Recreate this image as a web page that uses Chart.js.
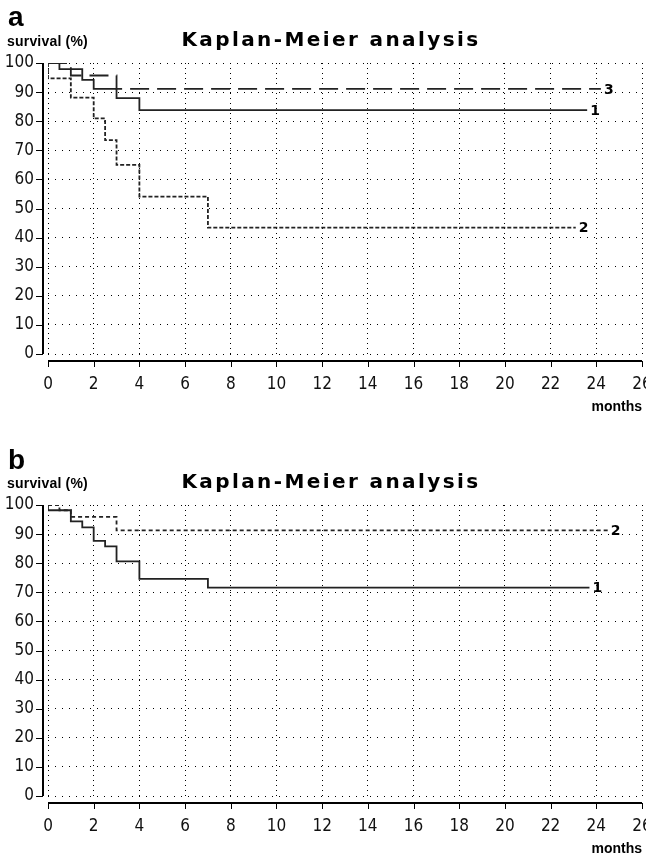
<!DOCTYPE html>
<html>
<head>
<meta charset="utf-8">
<script src="https://cdn.jsdelivr.net/npm/chart.js@4"></script>
<style>
  body { margin: 0; background: #fff; overflow: hidden; width: 646px; height: 858px; }
  .panel { position: absolute; left: 0; width: 646px; }
  .panel canvas { position: absolute; left: 0; top: 0; }
  .tag { position: absolute; left: 8px; font: bold 28px 'Liberation Sans', Arial, sans-serif; line-height: 1; }
  .ylab { position: absolute; left: 7px; font: bold 14px 'Liberation Sans', Arial, sans-serif; letter-spacing: 0.2px; line-height: 1; }
  .title { position: absolute; left: 0; width: 662px; text-align: center; font: bold 20px 'DejaVu Sans', sans-serif; letter-spacing: 2.4px; line-height: 1; }
</style>
</head>
<body>
<div class="panel" style="top:0; height:442px">
  <canvas id="chartA" width="646" height="442"></canvas>
  <div class="tag" style="top:3px">a</div>
  <div class="ylab" style="top:34px">survival (%)</div>
  <div class="title" style="top:29px">Kaplan-Meier analysis</div>
</div>
<div class="panel" style="top:442px; height:416px">
  <canvas id="chartB" width="646" height="416"></canvas>
  <div class="tag" style="top:4px">b</div>
  <div class="ylab" style="top:34px">survival (%)</div>
  <div class="title" style="top:29px">Kaplan-Meier analysis</div>
</div>
<script>
// axis ticks
const monthTicks = [0, 2, 4, 6, 8, 10, 12, 14, 16, 18, 20, 22, 24, 26];
const survivalTicks = [0, 10, 20, 30, 40, 50, 60, 70, 80, 90, 100];

// panel a
const a1Months = [0, 0.5, 1.5, 2, 3, 4, 23.6];
const a1Survival = [100, 97.9, 94.2, 91.1, 87.9, 83.8, 83.8];
const a2Months = [0, 0, 1, 2, 2.5, 3, 4, 7, 23.1];
const a2Survival = [100, 94.7, 88.1, 81.0, 73.5, 65.0, 54.1, 43.4, 43.4];
const a3Months = [0, 1, 3, 24.2];
const a3Survival = [100, 95.7, 91.1, 91.1];

// panel b
const b1Months = [0, 0, 1, 1.5, 2, 2.5, 3, 4, 7, 23.7];
const b1Survival = [100, 98.2, 94.4, 92.3, 87.7, 85.8, 80.6, 74.6, 71.6, 71.6];
const b2Months = [0, 0.5, 1, 3, 24.5];
const b2Survival = [100, 98.2, 95.9, 91.3, 91.3];

// narrow tick digits like the original
const tickFont = { family: "'DejaVu Sans', sans-serif", weight: 'normal condensed', size: 17 };
const ink = '#111';

function curve(label, months, survival, dash) {
  return {
    label: label,
    data: months.map((m, i) => ({ x: m, y: survival[i] })),
    stepped: 'before',
    borderColor: '#222',
    borderWidth: 1.8,
    borderDash: dash,
    pointRadius: 0,
    fill: false,
  };
}

// axis lines sit a few pixels off the plot, plus curve numbers at line ends
const offsetAxes = {
  id: 'offsetAxes',
  afterDraw(chart) {
    const { ctx, chartArea: area, scales: { x, y } } = chart;
    ctx.save();
    ctx.strokeStyle = '#000';

    const yl = area.left - 5;
    ctx.lineWidth = 2;
    ctx.beginPath();
    ctx.moveTo(yl, y.getPixelForValue(100));
    ctx.lineTo(yl, y.getPixelForValue(0));
    ctx.stroke();
    ctx.lineWidth = 1;
    ctx.beginPath();
    survivalTicks.forEach(v => {
      const p = Math.round(y.getPixelForValue(v)) + 0.5;
      ctx.moveTo(yl - 7, p);
      ctx.lineTo(yl, p);
    });
    ctx.stroke();

    const xl = area.bottom + 7;
    ctx.lineWidth = 2;
    ctx.beginPath();
    ctx.moveTo(x.getPixelForValue(0), xl);
    ctx.lineTo(x.getPixelForValue(26), xl);
    ctx.stroke();
    ctx.lineWidth = 1;
    ctx.beginPath();
    monthTicks.forEach(m => {
      const p = Math.round(x.getPixelForValue(m)) + 0.5;
      ctx.moveTo(p, xl);
      ctx.lineTo(p, xl + 6);
    });
    ctx.stroke();

    ctx.fillStyle = '#000';
    ctx.font = "bold 14px 'DejaVu Sans', sans-serif";
    ctx.textBaseline = 'middle';
    ctx.textAlign = 'left';
    chart.data.datasets.forEach(ds => {
      const last = ds.data[ds.data.length - 1];
      ctx.fillText(ds.label, x.getPixelForValue(last.x) + 3, y.getPixelForValue(last.y) + 1);
    });
    ctx.restore();
  }
};

function makeChart(id, datasets) {
  const canvas = document.getElementById(id);
  const h = canvas.height;
  return new Chart(canvas, {
    type: 'line',
    data: { datasets },
    options: {
      responsive: false,
      animation: false,
      devicePixelRatio: 1,
      layout: { padding: { left: 0, right: 4, top: 63, bottom: 0 } },
      plugins: {
        legend: { display: false },
        tooltip: { enabled: false },
      },
      scales: {
        x: {
          type: 'linear',
          min: 0,
          max: 26,
          afterBuildTicks: s => { s.ticks = monthTicks.map(v => ({ value: v })); },
          afterFit: s => { s.paddingLeft = 0; s.paddingRight = 0; s.height = h - 354; },
          ticks: { color: ink, font: tickFont, padding: 20, maxRotation: 0, autoSkip: false },
          grid: { color: '#000', lineWidth: 1, drawTicks: false, borderDash: [1, 4] },
          border: { display: false, dash: [1, 4] },
          title: {
            display: true,
            text: 'months',
            align: 'end',
            color: '#000',
            font: { family: "'Liberation Sans', Arial, sans-serif", weight: 'bold', size: 14 },
            padding: { top: 0, bottom: h - 416 },
          },
        },
        y: {
          type: 'linear',
          min: 0,
          max: 100,
          afterBuildTicks: s => { s.ticks = survivalTicks.map(v => ({ value: v })); },
          afterFit: s => { s.width = 48; s.paddingTop = 0; s.paddingBottom = 0; },
          ticks: { color: ink, font: tickFont, padding: 14 },
          grid: { color: '#000', lineWidth: 1, drawTicks: false, borderDash: [1, 6] },
          border: { display: false, dash: [1, 6] },
        },
      },
    },
    plugins: [offsetAxes],
  });
}

makeChart('chartA', [
  curve('1', a1Months, a1Survival, []),
  curve('2', a2Months, a2Survival, [4, 2]),
  curve('3', a3Months, a3Survival, [19, 8]),
]);

makeChart('chartB', [
  curve('1', b1Months, b1Survival, []),
  curve('2', b2Months, b2Survival, [4, 3]),
]);
</script>
</body>
</html>
